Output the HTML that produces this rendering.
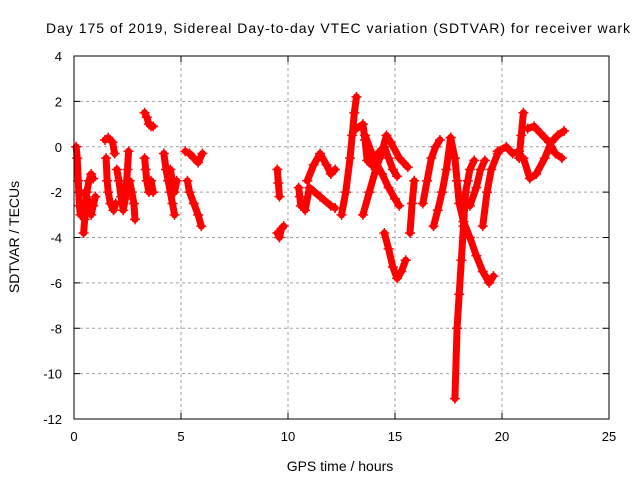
<!DOCTYPE html>
<html><head><meta charset="utf-8"><style>
body{margin:0;background:#fff}
svg{display:block;font-family:"Liberation Sans",sans-serif}
</style></head><body>
<svg id="chart" width="640" height="480" viewBox="0 0 640 480">
<text x="46" y="33" font-size="14" textLength="584" lengthAdjust="spacing">Day 175 of 2019, Sidereal Day-to-day VTEC variation (SDTVAR) for receiver wark</text>
<text x="340" y="471" font-size="14" text-anchor="middle">GPS time / hours</text>
<text x="0" y="0" font-size="14" text-anchor="middle" transform="translate(19,237) rotate(-90)">SDTVAR / TECUs</text>
<g id="grid"></g><g id="ticks"></g><g id="marks"></g>
<rect x="74" y="56" width="535" height="363" fill="none" stroke="#000" stroke-width="1"/>
</svg>
<script>
const xTicks=[0,5,10,15,20,25];
const yTicks=[4,2,0,-2,-4,-6,-8,-10,-12];
const track1=[[0.1,0.0],[0.15,-0.5],[0.2,-1.5],[0.25,-2.6],[0.3,-3.0]];
const track2=[[0.45,-3.8],[0.5,-3.2],[0.55,-2.5],[0.6,-2.0],[0.7,-1.5],[0.8,-1.2],[0.9,-1.4]];
const track3=[[0.5,-2.0],[0.7,-2.5],[0.8,-3.0],[0.9,-2.6],[1.0,-2.2]];
const track4=[[1.45,0.3],[1.6,0.4],[1.8,0.2],[1.9,-0.3]];
const track5=[[1.5,-0.5],[1.55,-1.5],[1.6,-2.0],[1.7,-2.5],[1.85,-2.8],[1.95,-2.5]];
const track6=[[2.0,-1.0],[2.1,-1.5],[2.2,-2.2],[2.3,-2.8],[2.4,-2.3],[2.5,-1.0],[2.55,-0.2]];
const track7=[[2.6,-1.5],[2.7,-2.0],[2.8,-2.5],[2.85,-3.2]];
const track8=[[3.3,1.5],[3.4,1.3],[3.5,1.0],[3.6,0.9],[3.7,0.9]];
const track9=[[3.3,-0.5],[3.35,-1.0],[3.4,-1.5],[3.5,-2.0],[3.6,-1.5],[3.7,-2.0]];
const track10=[[4.2,-0.3],[4.3,-1.0],[4.4,-1.5],[4.5,-2.0],[4.6,-2.5],[4.7,-3.0]];
const track11=[[4.5,-1.0],[4.6,-1.5],[4.7,-2.0],[4.8,-1.5]];
const track12=[[5.2,-0.2],[5.4,-0.3],[5.6,-0.5],[5.8,-0.7],[6.0,-0.3]];
const track13=[[5.3,-1.5],[5.4,-2.0],[5.6,-2.5],[5.8,-3.0],[5.95,-3.5]];
const track14=[[9.5,-1.0],[9.55,-1.6],[9.6,-2.2]];
const track15=[[9.5,-3.8],[9.6,-4.0],[9.7,-3.6],[9.8,-3.5]];
const track16=[[10.5,-1.8],[10.55,-2.2],[10.6,-2.6]];
const track17=[[10.9,-1.5],[11.2,-0.8],[11.5,-0.3],[11.8,-0.8],[12.0,-1.2],[12.2,-1.0]];
const track18=[[10.8,-2.8],[11.0,-1.8],[11.5,-2.2],[12.0,-2.6],[12.2,-2.7]];
const track19=[[12.5,-3.0],[12.7,-2.0],[12.9,-0.5],[13.0,0.5],[13.1,1.5],[13.2,2.2]];
const track20=[[13.2,0.8],[13.5,1.0],[13.6,0.3],[13.7,-0.6],[13.9,-0.8],[14.2,-0.3],[14.5,0.0],[14.7,-0.5],[14.9,-1.0],[15.1,-1.3]];
const track21=[[13.6,0.5],[14.0,-0.5],[14.4,-1.2],[14.7,-1.8],[15.0,-2.3],[15.2,-2.6]];
const track22=[[13.5,-3.0],[13.8,-2.0],[14.1,-1.0],[14.4,-0.2],[14.6,0.5],[14.8,0.2],[15.2,-0.5],[15.6,-0.9]];
const track23=[[14.5,-3.8],[14.7,-4.5],[14.9,-5.3],[15.1,-5.8],[15.3,-5.5],[15.5,-5.0]];
const track24=[[15.7,-3.8],[15.8,-2.5],[15.9,-1.5]];
const track25=[[16.3,-2.5],[16.5,-1.5],[16.7,-0.5],[16.9,0.0],[17.1,0.3]];
const track26=[[16.8,-3.5],[17.0,-2.8],[17.2,-2.0],[17.4,-1.0],[17.6,0.4]];
const track27=[[17.8,-11.1],[17.9,-8.0],[18.0,-6.5],[18.1,-5.0],[18.2,-3.5],[18.3,-2.0],[18.4,-1.5],[18.5,-1.0],[18.7,-0.6]];
const track28=[[17.6,0.4],[17.8,-0.5],[17.9,-1.5],[18.0,-2.5],[18.2,-3.3],[18.5,-4.0],[18.8,-4.8],[19.1,-5.5],[19.4,-6.0],[19.6,-5.7]];
const track29=[[18.5,-2.6],[18.8,-1.8],[19.0,-1.0],[19.2,-0.6]];
const track30=[[19.1,-3.5],[19.3,-2.0],[19.5,-1.0],[19.8,-0.3]];
const track31=[[19.8,-0.2],[20.2,0.0],[20.5,-0.3],[20.8,-0.2]];
const track32=[[20.8,-0.5],[20.9,0.5],[21.0,1.5]];
const track33=[[21.2,0.8],[21.5,0.9],[21.8,0.6],[22.2,0.2],[22.5,-0.3],[22.8,-0.5]];
const track34=[[21.0,-0.5],[21.3,-1.4],[21.6,-1.2],[22.0,-0.5],[22.3,0.2],[22.6,0.5],[22.9,0.7]];
const tracks=[track1,track2,track3,track4,track5,track6,track7,track8,track9,track10,track11,track12,track13,track14,track15,track16,track17,track18,track19,track20,track21,track22,track23,track24,track25,track26,track27,track28,track29,track30,track31,track32,track33,track34];

const NS="http://www.w3.org/2000/svg";
function xs(t){return 74+t*(535/25);}
function ys(v){return 56+(4-v)*(363/16);}
function mk(tag,attrs,parent){const e=document.createElementNS(NS,tag);for(const k in attrs)e.setAttribute(k,attrs[k]);parent.appendChild(e);return e;}
const grid=document.getElementById('grid'),ticks=document.getElementById('ticks'),marks=document.getElementById('marks');
xTicks.forEach(t=>{
  const x=xs(t);
  if(t>0&&t<25){const g=mk('line',{x1:x,y1:56,x2:x,y2:419,stroke:'#a0a0a0','stroke-dasharray':'3,3'},grid);
  
  }
  mk('line',{x1:x,y1:419,x2:x,y2:413,stroke:'#000'},ticks);
  mk('line',{x1:x,y1:56,x2:x,y2:62,stroke:'#000'},ticks);
  const l=mk('text',{x:x,y:441,'font-size':13,'text-anchor':'middle'},ticks);l.textContent=t;
  
  
});
yTicks.forEach(v=>{
  const y=ys(v);
  if(v<4&&v>-12){const g=mk('line',{x1:74,y1:y,x2:609,y2:y,stroke:'#a0a0a0','stroke-dasharray':'3,3'},grid);
  
  }
  mk('line',{x1:74,y1:y,x2:80,y2:y,stroke:'#000'},ticks);
  mk('line',{x1:609,y1:y,x2:603,y2:y,stroke:'#000'},ticks);
  const l=mk('text',{x:62,y:y+5,'font-size':13,'text-anchor':'end'},ticks);l.textContent=v;
  
  
});
tracks.forEach(tr=>{
  const pl=mk('polyline',{points:tr.map(p=>xs(p[0])+','+ys(p[1])).join(' '),fill:'none',stroke:'#f00','stroke-width':7,'stroke-linejoin':'round','stroke-linecap':'round'},marks);
  
  
  tr.forEach(p=>{
    const x=xs(p[0]),y=ys(p[1]);
    const m=mk('path',{d:`M${x-5},${y}H${x+5}M${x},${y-5}V${y+5}`,stroke:'#f00','stroke-width':1.5},marks);
    
    
  });
});
</script>
</body></html>
